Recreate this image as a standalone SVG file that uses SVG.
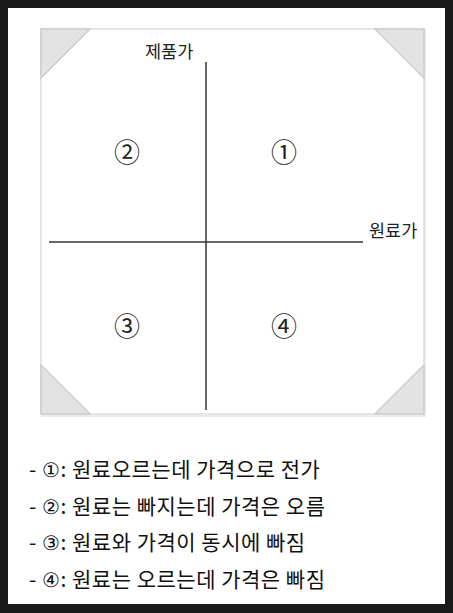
<svg xmlns="http://www.w3.org/2000/svg" width="453" height="613" viewBox="0 0 453 613">
<style>
.frame{fill:#1a1a1a}
.paper{fill:#ffffff}
.box{fill:#ffffff;stroke:#dedede;stroke-width:1.5}
.shadow{fill:none;stroke:#ececec;stroke-width:2}
.corner{fill:#e3e3e3;stroke:#cdcdcd;stroke-width:1.5}
.axis{stroke:#333333;stroke-width:1.5;fill:none}
.lbl{font-family:"Noto Sans CJK KR","Noto Sans",sans-serif;font-size:17.5px;fill:#222222}
.num{font-family:"DejaVu Serif","Liberation Serif","Noto Sans CJK KR",serif;font-size:26px;fill:#222222;text-anchor:middle}
.item{font-family:"Noto Sans CJK KR","Noto Sans",sans-serif;font-size:21px;letter-spacing:0.5px;fill:#111111}
.d{font-family:"DejaVu Serif","Liberation Serif",serif;font-size:20px}
</style>
<rect class="frame" x="0" y="0" width="453" height="613"/>
<rect class="paper" x="8" y="8" width="437" height="596"/>
<g id="chart">
<rect class="shadow" x="42" y="30" width="383" height="386"/>
<rect class="box" x="41" y="29" width="383" height="385"/>
<polygon class="corner" points="41,29 90,29 41,78"/>
<polygon class="corner" points="424,29 375,29 424,78"/>
<polygon class="corner" points="41,414 41,365 90,414"/>
<polygon class="corner" points="424,414 424,365 375,414"/>
</g>
<g id="connectors">
<line class="axis" x1="206" y1="62" x2="206" y2="410"/>
<line class="axis" x1="49" y1="242" x2="363" y2="242"/>
</g>
<g id="axis-y-label"><text class="lbl" x="145" y="58">제품가</text></g>
<g id="axis-x-label"><text class="lbl" x="369" y="237">원료가</text></g>
<g id="q1"><text class="num" x="284" y="162">①</text></g>
<g id="q2"><text class="num" x="127" y="162">②</text></g>
<g id="q3"><text class="num" x="127" y="336">③</text></g>
<g id="q4"><text class="num" x="284" y="336">④</text></g>
<g id="legend">
<text class="item" x="29" y="477">- <tspan class="d">①</tspan>: 원료오르는데 가격으로 전가</text>
<text class="item" x="29" y="514">- <tspan class="d">②</tspan>: 원료는 빠지는데 가격은 오름</text>
<text class="item" x="29" y="550">- <tspan class="d">③</tspan>: 원료와 가격이 동시에 빠짐</text>
<text class="item" x="29" y="587">- <tspan class="d">④</tspan>: 원료는 오르는데 가격은 빠짐</text>
</g>
</svg>
